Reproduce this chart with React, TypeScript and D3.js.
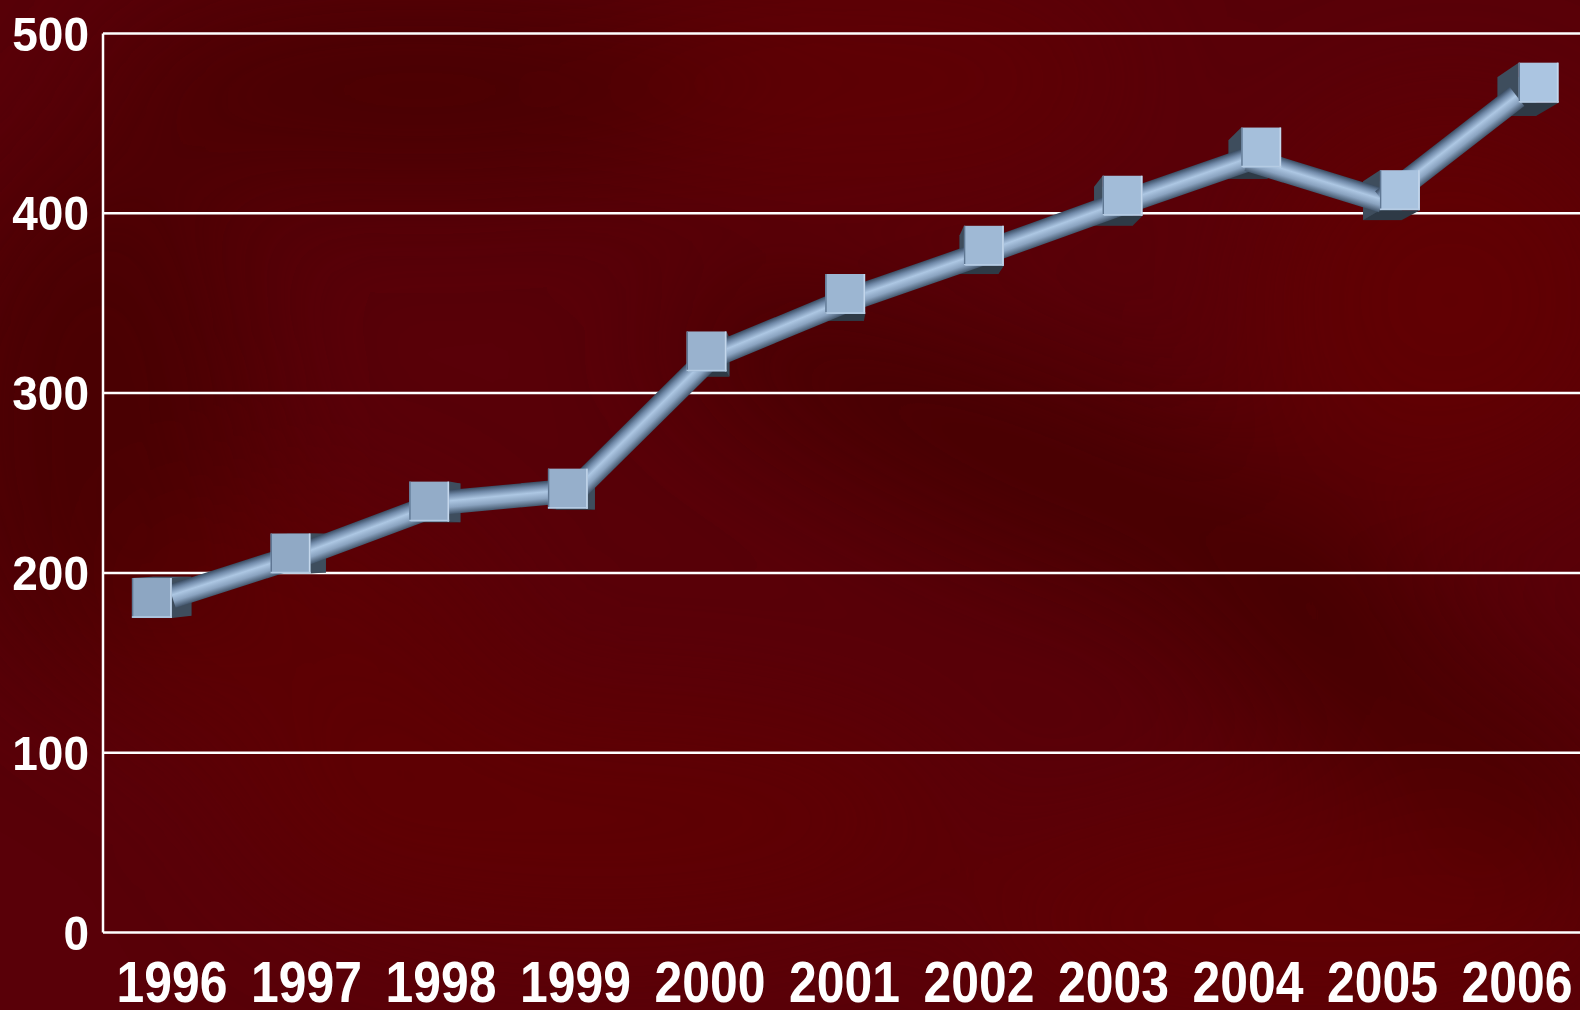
import React from 'react';
import * as d3 from 'd3';

const years = ['1996', '1997', '1998', '1999', '2000', '2001', '2002', '2003', '2004', '2005', '2006'];
const values = [187, 211, 239, 246, 320, 351, 377, 404, 430, 407, 465];
const yTicks = [0, 100, 200, 300, 400, 500];

const W = 1580;
const H = 1010;
const VP: [number, number] = [820, 540];
const FRONT = 1.031;
const HALF_FRONT = 20;
const HALF_BACK = 19.4;
const TUBE_W = 24;

export default function App() {
  const x = d3.scalePoint<string>().domain(years).range([172, 1517]);
  const y = d3.scaleLinear().domain([0, 500]).range([932.5, 33.5]);
  const plotLeft = 103;

  const pts = years.map((yr, i) => [x(yr) as number, y(values[i])] as [number, number]);
  const front = pts.map(([px, py]) => [VP[0] + (px - VP[0]) * FRONT, VP[1] + (py - VP[1]) * FRONT] as [number, number]);
  const faceColor = d3.scaleLinear<string>().domain([0, years.length - 1]).range(['#8da6c2', '#abc5e1']);

  const segs = pts.slice(0, -1).map((p, i) => {
    const q = pts[i + 1];
    const dx = q[0] - p[0];
    const dy = q[1] - p[1];
    const len = Math.hypot(dx, dy);
    const nx = -dy / len;
    const ny = dx / len;
    const mx = (p[0] + q[0]) / 2;
    const my = (p[1] + q[1]) / 2;
    return { p, q, g: [mx - nx * TUBE_W / 2, my - ny * TUBE_W / 2, mx + nx * TUBE_W / 2, my + ny * TUBE_W / 2] };
  });

  const sq = (c: [number, number], h: number) => ({
    l: c[0] - h, r: c[0] + h, t: c[1] - h, b: c[1] + h,
  });

  return (
    <svg width={W} height={H} style={{ position: 'absolute', left: 0, top: 0 }} xmlns="http://www.w3.org/2000/svg">
      <defs>
        <filter id="blur" x="-50%" y="-50%" width="200%" height="200%">
          <feGaussianBlur stdDeviation="70" />
        </filter>
        {segs.map((s, i) => (
          <linearGradient key={i} id={`tube${i}`} gradientUnits="userSpaceOnUse" x1={s.g[0]} y1={s.g[1]} x2={s.g[2]} y2={s.g[3]}>
            <stop offset="0" stopColor="#3a4c62" />
            <stop offset="0.2" stopColor="#7089a8" />
            <stop offset="0.45" stopColor="#adc7e3" />
            <stop offset="0.72" stopColor="#8aa3c0" />
            <stop offset="1" stopColor="#44576d" />
          </linearGradient>
        ))}
      </defs>

      {/* background */}
      <rect x={0} y={0} width={W} height={H} fill="#590008" />
      <g filter="url(#blur)">
        <ellipse cx={420} cy={90} rx={330} ry={90} fill="#430004" opacity={0.8} />
        <ellipse cx={880} cy={80} rx={260} ry={110} fill="#650009" opacity={0.45} />
        <ellipse cx={100} cy={420} rx={160} ry={260} fill="#440004" opacity={0.7} />
        <ellipse cx={1050} cy={470} rx={420} ry={90} fill="#420004" opacity={0.8} transform="rotate(22 1050 470)" />
        <ellipse cx={1420} cy={720} rx={260} ry={80} fill="#430004" opacity={0.8} transform="rotate(30 1420 720)" />
        <ellipse cx={1450} cy={300} rx={200} ry={200} fill="#660009" opacity={0.6} />
        <ellipse cx={1300} cy={920} rx={330} ry={110} fill="#66000a" opacity={0.6} />
        <ellipse cx={600} cy={820} rx={360} ry={120} fill="#62000a" opacity={0.6} />
        <ellipse cx={300} cy={640} rx={200} ry={140} fill="#5f0009" opacity={0.5} />
      </g>

      {/* grid */}
      {yTicks.map((t) => (
        <line key={t} x1={plotLeft} x2={W} y1={y(t)} y2={y(t)} stroke="#ffffff" strokeWidth={2.5} />
      ))}
      <line x1={plotLeft} x2={plotLeft} y1={y(500)} y2={y(0)} stroke="#ffffff" strokeWidth={2.5} />

      {/* y labels */}
      {yTicks.map((t) => {
        const s = String(t);
        return (
          <text key={t} x={89} y={y(t) + 17} textAnchor="end" fill="#ffffff"
            fontFamily="'Liberation Sans', Arial, sans-serif" fontWeight="bold" fontSize={49}
            textLength={s.length * 25.6} lengthAdjust="spacingAndGlyphs">{s}</text>
        );
      })}

      {/* x labels */}
      {years.map((yr) => (
        <text key={yr} x={(x(yr) as number) - 55.5} y={1002} fill="#ffffff"
          fontFamily="'Liberation Sans', Arial, sans-serif" fontWeight="bold" fontSize={57}
          textLength={111} lengthAdjust="spacingAndGlyphs">{yr}</text>
      ))}

      {/* cube back & sides */}
      {pts.map((p, i) => {
        const f = sq(front[i], HALF_FRONT);
        const b = sq(p, HALF_BACK);
        const leftVisible = p[0] < front[i][0];
        const bottomVisible = p[1] > front[i][1];
        const vx = leftVisible ? [f.l, b.l] : [f.r, b.r];
        const hy = bottomVisible ? [f.b, b.b] : [f.t, b.t];
        const vertQuad = `M${vx[0]},${f.t}L${vx[1]},${b.t}L${vx[1]},${b.b}L${vx[0]},${f.b}Z`;
        const horQuad = `M${f.l},${hy[0]}L${b.l},${hy[1]}L${b.r},${hy[1]}L${f.r},${hy[0]}Z`;
        return (
          <g key={i}>
            <rect x={b.l} y={b.t} width={b.r - b.l} height={b.b - b.t} fill="#35434f" />
            <path d={horQuad} fill={bottomVisible ? '#2e3a46' : '#52657a'} />
            <path d={vertQuad} fill="#3e4d5d" />
          </g>
        );
      })}

      {/* tube */}
      {segs.map((s, i) => (
        <line key={i} x1={s.p[0]} y1={s.p[1]} x2={s.q[0]} y2={s.q[1]} stroke={`url(#tube${i})`} strokeWidth={TUBE_W} />
      ))}

      {/* cube front faces */}
      {front.map((c, i) => {
        const f = sq(c, HALF_FRONT);
        return (
          <g key={i}>
            <rect x={f.l} y={f.t} width={f.r - f.l} height={f.b - f.t} fill={faceColor(i)} />
            <line x1={f.r - 1} x2={f.r - 1} y1={f.t} y2={f.b} stroke="#c4d7ec" strokeWidth={1.5} />
            <line x1={f.l + 0.7} x2={f.l + 0.7} y1={f.t} y2={f.b} stroke="#5f7793" strokeWidth={1.4} />
            <line x1={f.l} x2={f.r} y1={f.b - 1} y2={f.b - 1} stroke="#b5cbe3" strokeWidth={1.5} />
          </g>
        );
      })}
    </svg>
  );
}
